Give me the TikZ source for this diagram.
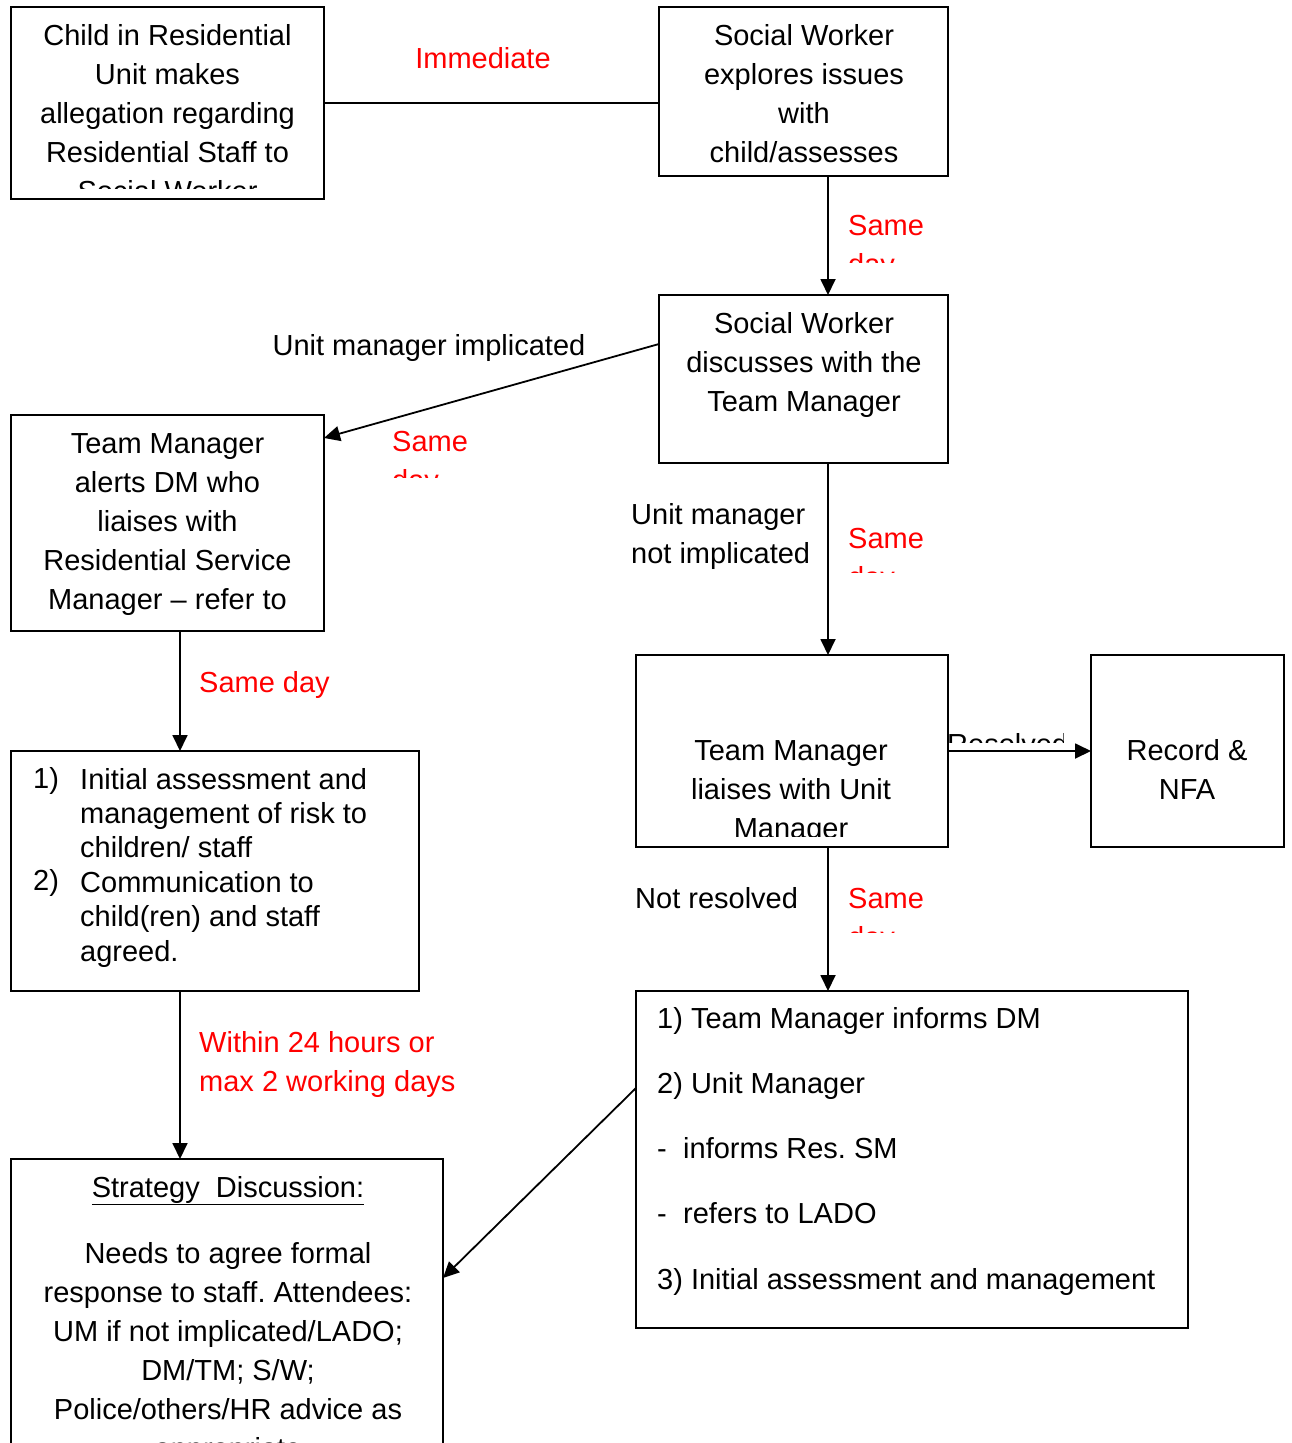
\documentclass[tikz,border=0pt]{standalone}
\usepackage{fontspec}
\setmainfont{Liberation Sans}
\usetikzlibrary{arrows.meta,calc}
\definecolor{lblred}{RGB}{255,0,0}
\frenchspacing
\begin{document}
\begin{tikzpicture}[x=1pt,y=-1pt,
  box/.style={draw, line width=1.8pt, inner sep=0pt, outer sep=0pt, anchor=north west},
  txt/.style={font=\fontsize{29}{39}\selectfont, inner sep=0pt, anchor=base, align=center},
  ltxt/.style={font=\fontsize{29}{39}\selectfont, inner sep=0pt, anchor=base west, align=left},
  rlbl/.style={ltxt, text=lblred},
  conn/.style={line width=1.8pt},
  arr/.style={conn, -{Triangle[length=16pt,width=15pt]}}]
\useasboundingbox (0,0) rectangle (1292,1443);
\clip (0,0) rectangle (1292,1443);

% boxes
\node[box, minimum width=313pt, minimum height=192pt] (A) at (11,7) {};
\node[box, minimum width=289pt, minimum height=169pt] (B) at (659,7) {};
\node[box, minimum width=289pt, minimum height=168pt] (C) at (659,295) {};
\node[box, minimum width=313pt, minimum height=216pt] (D) at (11,415) {};
\node[box, minimum width=408pt, minimum height=240pt] (E) at (11,751) {};
\node[box, minimum width=432pt, minimum height=341pt] (F) at (11,1159) {};
\node[box, minimum width=312pt, minimum height=192pt] (G) at (636,655) {};
\node[box, minimum width=193pt, minimum height=192pt] (H) at (1091,655) {};
\node[box, minimum width=552pt, minimum height=337pt] (I) at (636,991) {};

\coordinate (colR) at (828,0);
\coordinate (colL) at (180,0);

% box texts (multi-line nodes are placed by the baseline of their last line)
\begin{scope}
\clip (11,7) rectangle (324,188);
\node[txt] (tA) at (167.5,201) {Child in Residential\\Unit makes\\allegation regarding\\Residential Staff to\\Social Worker};
\end{scope}
\node[txt] (tB) at (804,162) {Social Worker\\explores issues\\with\\child/assesses};
\node[txt] (tC) at (804,411) {Social Worker\\discusses with the\\Team Manager};
\node[txt] (tD) at (167.5,609) {Team Manager\\alerts DM who\\liaises with\\Residential Service\\Manager – refer to};
\node[ltxt, font=\fontsize{29}{33.7}\selectfont] (tEn) at (33,890) {1)\\\\\\2)};
\node[ltxt, font=\fontsize{29}{34.4}\selectfont] (tE) at (80,961) {Initial assessment and\\management of risk to\\children/ staff\\Communication to\\child(ren) and staff\\agreed.};
\node[txt] (tF1) at (228,1197) {\underline{Strategy\ \ Discussion:}};
\node[txt] (tF) at (228,1458) {Needs to agree formal\\response to staff. Attendees:\\UM if not implicated/LADO;\\DM/TM; S/W;\\Police/others/HR advice as\\appropriate};
\begin{scope}
\clip (636,655) rectangle (948,836);
\node[txt] (tG) at (791,838) {Team Manager\\liaises with Unit\\Manager};
\end{scope}
\node[txt] (tH) at (1187,799) {Record \&\\NFA};
\node[ltxt, font=\fontsize{29}{65.3}\selectfont] (tI) at (657,1289.2) {1) Team Manager informs DM\\2) Unit Manager\\\makebox[26pt][l]{-}informs Res. SM\\\makebox[26pt][l]{-}refers to LADO\\3) Initial assessment and management};

% connector labels
\node[txt, text=lblred] (lImm) at (483,68) {Immediate};
\begin{scope}
\clip (840,190) rectangle (960,262);
\node[rlbl] (lS1) at (848,274) {Same\\day};
\end{scope}
\node[txt] (lUMI) at (429,355) {Unit manager implicated};
\begin{scope}
\clip (380,410) rectangle (500,477);
\node[rlbl] (lS2) at (392,490) {Same\\day};
\end{scope}
\node[rlbl] (lS3) at (199,692) {Same day};
\node[rlbl] (lW) at (199,1091) {Within 24 hours or\\max 2 working days};
\node[ltxt] (lUMN) at (631,563) {Unit manager\\not implicated};
\begin{scope}
\clip (840,500) rectangle (960,572);
\node[rlbl] (lS4) at (848,587) {Same\\day};
\end{scope}
\begin{scope}
\clip (946,700) rectangle (1063,742);
\node[ltxt] (lRes) at (947,754) {Resolved};
\end{scope}
\node[ltxt] (lNR) at (635,908) {Not resolved};
\begin{scope}
\clip (840,860) rectangle (960,932);
\node[rlbl] (lS5) at (848,947) {Same\\day};
\end{scope}

% connectors
\draw[conn] (A.east) -- (A.east -| B.west);
\draw[arr] (B.south -| colR) -- (C.north -| colR);
\draw[arr] ([yshift=35pt]C.west) -- ([yshift=85pt]D.east);
\draw[arr] (D.south -| colL) -- (E.north -| colL);
\draw[arr] (E.south -| colL) -- (F.north -| colL);
\draw[arr] (C.south -| colR) -- (G.north -| colR);
\draw[arr] (G.east) -- (H.west);
\draw[arr] (G.south -| colR) -- (I.north -| colR);
\draw[arr] ([yshift=71.5pt]I.west) -- ([yshift=51.5pt]F.east);
\end{tikzpicture}
\end{document}
